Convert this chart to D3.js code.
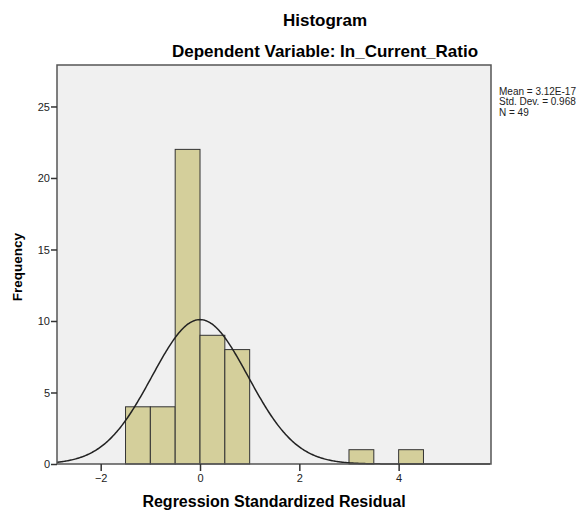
<!DOCTYPE html>
<html>
<head>
<meta charset="utf-8">
<script src="https://cdn.jsdelivr.net/npm/d3@7"></script>
<style>
  body { margin: 0; background: #fff; }
  svg { font-family: Arial, "Liberation Sans", sans-serif; }
</style>
</head>
<body>
<svg id="chart" width="586" height="511"></svg>
<script>
// histogram bins (lower edge, width 0.5) and counts
const binStarts = [-1.5, -1.0, -0.5, 0.0, 0.5, 3.0, 4.0];
const binCounts = [4, 4, 22, 9, 8, 1, 1];
const binWidth = 0.5;

const xTicks = [-2, 0, 2, 4];
const yTicks = [0, 5, 10, 15, 20, 25];

const stats = ["Mean = 3.12E-17", "Std. Dev. = 0.968", "N = 49"];
const mean = 3.12e-17, sd = 0.968, n = 49;

const plot = { left: 57, right: 491, top: 65, bottom: 464 };

const svg = d3.select("#chart");

const x = d3.scaleLinear().domain([-2.88, 5.86]).range([plot.left, plot.right]);
const y = d3.scaleLinear().domain([0, 27.9]).range([plot.bottom, plot.top]);

// plot background
svg.append("rect")
  .attr("x", plot.left).attr("y", plot.top)
  .attr("width", plot.right - plot.left).attr("height", plot.bottom - plot.top)
  .attr("fill", "#f0f0f0");

// bars
svg.append("g").selectAll("rect")
  .data(binStarts.map((s, i) => ({ s, c: binCounts[i] })))
  .join("rect")
  .attr("x", d => x(d.s))
  .attr("y", d => y(d.c))
  .attr("width", d => x(d.s + binWidth) - x(d.s))
  .attr("height", d => y(0) - y(d.c))
  .attr("fill", "#d4cf9b")
  .attr("stroke", "#333")
  .attr("stroke-width", 1);

// normal curve
const pdf = v => n * binWidth * Math.exp(-0.5 * ((v - mean) / sd) ** 2) / (sd * Math.sqrt(2 * Math.PI));
const curvePts = d3.range(-2.88, 5.86, 0.02).map(v => [v, pdf(v)]);
svg.append("path")
  .datum(curvePts)
  .attr("fill", "none")
  .attr("stroke", "#222")
  .attr("stroke-width", 1.5)
  .attr("d", d3.line().x(d => x(d[0])).y(d => y(d[1])));

// frame
svg.append("rect")
  .attr("x", plot.left).attr("y", plot.top)
  .attr("width", plot.right - plot.left).attr("height", plot.bottom - plot.top)
  .attr("fill", "none")
  .attr("stroke", "#555")
  .attr("stroke-width", 1.5);

// axes
const xAxis = svg.append("g")
  .attr("transform", `translate(0,${plot.bottom})`)
  .call(d3.axisBottom(x).tickValues(xTicks).tickSize(7).tickPadding(3).tickFormat(d3.format("d")));
const yAxis = svg.append("g")
  .attr("transform", `translate(${plot.left},0)`)
  .call(d3.axisLeft(y).tickValues(yTicks).tickSize(6).tickPadding(1).tickFormat(d3.format("d")));
[xAxis, yAxis].forEach(a => {
  a.select(".domain").remove();
  a.selectAll(".tick line").attr("stroke", "#333").attr("stroke-width", 1.5);
  a.selectAll(".tick text").attr("fill", "#222").style("font-size", "11px").style("font-family", "Arial, 'Liberation Sans', sans-serif");
});

// titles
svg.append("text")
  .attr("x", 325).attr("y", 26)
  .attr("text-anchor", "middle")
  .style("font-size", "17px").style("font-weight", "bold")
  .text("Histogram");
svg.append("text")
  .attr("x", 325).attr("y", 57)
  .attr("text-anchor", "middle")
  .style("font-size", "17px").style("font-weight", "bold")
  .text("Dependent Variable: In_Current_Ratio");

svg.append("text")
  .attr("x", (plot.left + plot.right) / 2).attr("y", 507)
  .attr("text-anchor", "middle")
  .style("font-size", "16px").style("font-weight", "bold")
  .text("Regression Standardized Residual");
svg.append("text")
  .attr("transform", `translate(22,267) rotate(-90)`)
  .attr("text-anchor", "middle")
  .style("font-size", "13.5px").style("font-weight", "bold")
  .text("Frequency");

// stats legend
svg.append("g").selectAll("text")
  .data(stats)
  .join("text")
  .attr("x", 499)
  .attr("y", (d, i) => 94.5 + i * 10.5)
  .style("font-size", "10px")
  .attr("fill", "#222")
  .text(d => d);
</script>
</body>
</html>
